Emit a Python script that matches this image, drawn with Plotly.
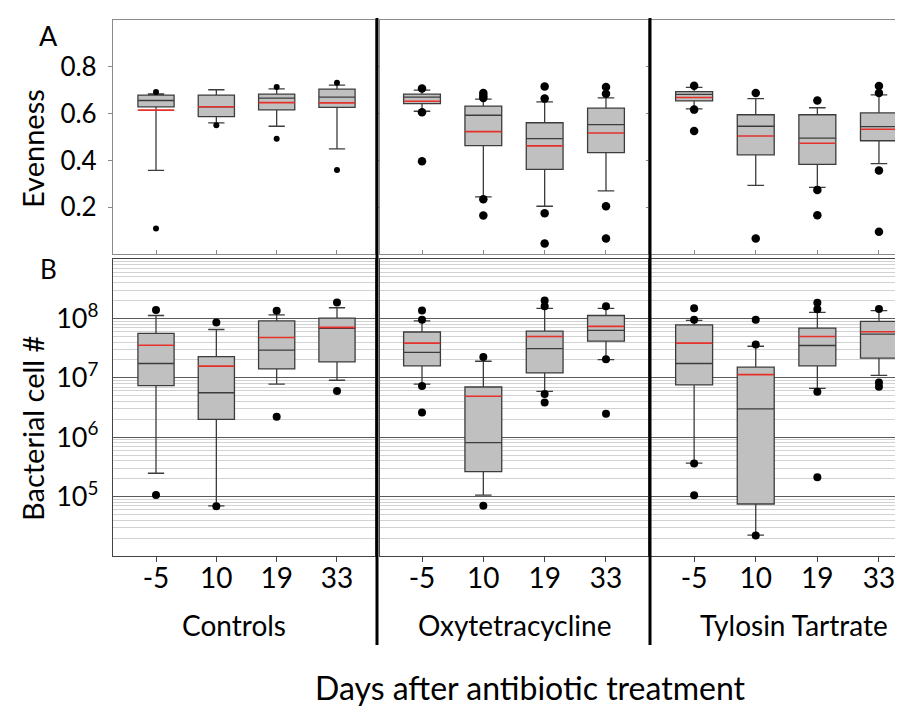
import plotly.graph_objects as go

W, H = 903, 708
days = ["-5", "10", "19", "33"]
groups = ["Controls", "Oxytetracycline", "Tylosin Tartrate"]
letters = [["x", "x", "x", "x"], ["x", "y", "y", "y"], ["x", "y", "y", "y"]]

# ---------------- Evenness (panel A) : one sub-list per group ----------------
even_q1 = [[0.629, 0.587, 0.616, 0.627], [0.643, 0.463, 0.362, 0.433], [0.654, 0.424, 0.383, 0.484]]
even_med = [[0.656, 0.629, 0.666, 0.670], [0.670, 0.593, 0.493, 0.553], [0.682, 0.546, 0.495, 0.544]]
even_q3 = [[0.679, 0.679, 0.683, 0.705], [0.683, 0.632, 0.561, 0.623], [0.694, 0.595, 0.595, 0.603]]
even_mean = [[0.615, 0.629, 0.647, 0.646], [0.653, 0.523, 0.462, 0.517], [0.669, 0.504, 0.473, 0.533]]
even_lo = [[0.357, 0.560, 0.546, 0.449], [0.610, 0.244, 0.204, 0.270], [0.620, 0.293, 0.285, 0.386]]
even_hi = [[0.684, 0.702, 0.706, 0.722], [0.700, 0.662, 0.650, 0.667], [0.712, 0.664, 0.625, 0.680]]
even_out = [
    [[0.692, 0.109], [0.550], [0.714, 0.492], [0.732, 0.359]],
    [[0.707, 0.606, 0.396], [0.688, 0.676, 0.667, 0.234, 0.165], [0.716, 0.664, 0.174, 0.045], [0.714, 0.685, 0.204, 0.066]],
    [[0.719, 0.617, 0.526], [0.688, 0.066], [0.656, 0.274, 0.166], [0.718, 0.688, 0.357, 0.095]],
]

# ---------------- Bacterial cell # (panel B) ----------------
cell_q1 = [[7.4e6, 2.0e6, 1.41e7, 1.85e7], [1.59e7, 2.64e5, 1.21e7, 4.14e7], [7.6e6, 7.5e4, 1.59e7, 2.14e7]]
cell_med = [[1.74e7, 5.6e6, 2.92e7, 6.8e7], [2.67e7, 8.1e5, 3.11e7, 6.27e7], [1.74e7, 3.0e6, 3.5e7, 5.43e7]]
cell_q3 = [[5.6e7, 2.28e7, 9.1e7, 1.01e8], [5.9e7, 7.0e6, 6.1e7, 1.12e8], [7.8e7, 1.51e7, 6.85e7, 8.9e7]]
cell_mean = [[3.54e7, 1.57e7, 4.78e7, 7.05e7], [3.83e7, 4.9e6, 4.97e7, 7.33e7], [3.83e7, 1.13e7, 4.97e7, 5.96e7]]
cell_lo = [[2.47e5, 7.0e4, 7.8e6, 9.1e6], [7.8e6, 1.06e5, 5.9e6, 2.03e7], [3.66e5, 2.24e4, 6.65e6, 1.10e7]]
cell_hi = [[1.12e8, 6.5e7, 1.15e8, 1.51e8], [9.1e7, 1.90e7, 1.48e8, 1.48e8], [9.25e7, 3.4e7, 1.26e8, 1.35e8]]
cell_out = [
    [[1.38e8, 1.06e5], [8.55e7, 6.85e4], [1.35e8, 2.21e6], [1.86e8, 6.0e6]],
    [[9.5e7, 1.36e8, 7.3e6, 2.61e6], [2.25e7, 7.0e4], [1.60e8, 2.01e8, 5.35e6, 3.85e6], [1.60e8, 2.06e7, 2.48e6]],
    [[9.5e7, 1.48e8, 3.6e5, 1.05e5], [3.64e7, 9.5e7, 2.22e4], [1.42e8, 1.84e8, 5.8e6, 2.12e5], [1.44e8, 8.3e6, 7.1e6]],
]

FONT = "Lato, 'Open Sans', sans-serif"
BOX_FILL = "#c0c0c0"
BOX_LINE = "#3c3c3c"
MEAN_RED = "#e4322b"

# panel geometry (pixels)
col_px = [(105, 367), (372, 640), (643, 903)]
xranges = [[-0.713, 3.63], [-0.685, 3.685], [-0.70, 3.52]]
rowA = (12, 246)
rowB = (251, 548)


def px_x(p):
    return p / W


def px_y(p):
    return 1 - p / H


fig = go.Figure()
layout = {}

for g in range(3):
    for r in range(2):
        idx = g + 1 + 3 * r
        xa = "x" if idx == 1 else f"x{idx}"
        ya = "y" if idx == 1 else f"y{idx}"
        if r == 0:
            q1, med, q3, mn, lo, hi, outs = (even_q1[g], even_med[g], even_q3[g], even_mean[g],
                                             even_lo[g], even_hi[g], even_out[g])
            osize = 6 if g == 0 else 8.5
        else:
            q1, med, q3, mn, lo, hi, outs = (cell_q1[g], cell_med[g], cell_q3[g], cell_mean[g],
                                             cell_lo[g], cell_hi[g], cell_out[g])
            osize = 8
        fig.add_trace(go.Box(
            x=days, q1=q1, median=med, q3=q3, lowerfence=lo, upperfence=hi,
            boxpoints=False, width=0.6, whiskerwidth=0.45,
            fillcolor=BOX_FILL, line=dict(color=BOX_LINE, width=1.3),
            xaxis=xa, yaxis=ya, showlegend=False, name=groups[g]))
        fig.add_trace(go.Scatter(
            x=days, y=mn, mode="markers", xaxis=xa, yaxis=ya, showlegend=False,
            marker=dict(symbol="line-ew", size=26, color=MEAN_RED,
                        line=dict(color=MEAN_RED, width=1.6))))
        ox, oy = [], []
        for d, vals in zip(days, outs):
            for v in vals:
                ox.append(d)
                oy.append(v)
        fig.add_trace(go.Scatter(
            x=ox, y=oy, mode="markers", xaxis=xa, yaxis=ya, showlegend=False,
            marker=dict(color="black", size=osize)))

        x0, x1 = col_px[g]
        top, bot = rowA if r == 0 else rowB
        xkey = "xaxis" if idx == 1 else f"xaxis{idx}"
        ykey = "yaxis" if idx == 1 else f"yaxis{idx}"
        xdict = dict(domain=[px_x(x0), px_x(x1)], anchor=ya, type="category",
                     range=xranges[g], showgrid=False, zeroline=False,
                     showline=True, mirror=True,
                     linecolor="#8a8a8a" if r == 0 else "#444444", linewidth=1.2,
                     tickfont=dict(family=FONT, size=28, color="black"))
        if r == 0:
            xdict.update(showticklabels=False, ticks="inside", ticklen=4, tickcolor="#888")
        else:
            xdict.update(showticklabels=True, ticks="outside", ticklen=5, tickcolor="#444",
                         ticklabelstandoff=-8)
        layout[xkey] = xdict

        if r == 0:
            ydict = dict(domain=[px_y(bot), px_y(top)], anchor=xa, range=[0, 1],
                         tickvals=[0.2, 0.4, 0.6, 0.8], ticktext=["0.2", "0.4", "0.6", "0.8"],
                         ticks="outside", ticklen=4, tickcolor="#888",
                         showgrid=False, zeroline=False, showline=True, mirror=True,
                         linecolor="#8a8a8a", linewidth=1.2,
                         showticklabels=(g == 0), ticklabelstandoff=6,
                         tickfont=dict(family=FONT, size=26, color="black"))
        else:
            ydict = dict(domain=[px_y(bot), px_y(top)], anchor=xa, type="log", range=[4, 9],
                         tickvals=[1e5, 1e6, 1e7, 1e8],
                         ticktext=["10<sup>5</sup>", "10<sup>6</sup>", "10<sup>7</sup>", "10<sup>8</sup>"],
                         ticks="", showgrid=True, gridcolor="#5a5a5a", gridwidth=1,
                         minor=dict(dtick="D1", showgrid=True, gridcolor="#d2d2d2", gridwidth=1, ticks=""),
                         zeroline=False, showline=True, mirror=True,
                         linecolor="#444444", linewidth=1.2,
                         showticklabels=(g == 0), ticklabelstandoff=8,
                         tickfont=dict(family=FONT, size=27, color="black"))
        layout[ykey] = ydict

        if r == 0:
            for d, lt in zip(days, letters[g]):
                fig.add_annotation(x=d, y=0.855, xref=xa, yref=ya, text=lt, showarrow=False,
                                   font=dict(family=FONT, size=26, color="black"))

annots = [
    dict(x=40, y=27, text="A", size=27),
    dict(x=40, y=261, text="B", size=26),
    dict(x=226, y=617, text="Controls", size=28),
    dict(x=506, y=617, text="Oxytetracycline", size=28),
    dict(x=786, y=617, text="Tylosin Tartrate", size=28),
    dict(x=522, y=679, text="Days after antibiotic treatment", size=32),
]
for a in annots:
    fig.add_annotation(x=px_x(a["x"]), y=px_y(a["y"]), xref="paper", yref="paper",
                       text=a["text"], showarrow=False, xanchor="center", yanchor="middle",
                       font=dict(family=FONT, size=a["size"], color="black"))
for txt, yc in [("Evenness", 141), ("Bacterial cell #", 420)]:
    fig.add_annotation(x=px_x(24), y=px_y(yc), xref="paper", yref="paper", text=txt,
                       textangle=-90, showarrow=False, xanchor="center", yanchor="middle",
                       font=dict(family=FONT, size=29, color="black"))

shapes = []
for sx in (369, 642):
    shapes.append(dict(type="line", xref="paper", yref="paper", x0=px_x(sx), x1=px_x(sx),
                       y0=px_y(10), y1=px_y(637), line=dict(color="black", width=3)))

fig.update_layout(width=W, height=H, margin=dict(l=0, r=0, t=0, b=0),
                  paper_bgcolor="white", plot_bgcolor="white", shapes=shapes,
                  font=dict(family=FONT, color="black"), **layout)

fig.write_html("out.html")
